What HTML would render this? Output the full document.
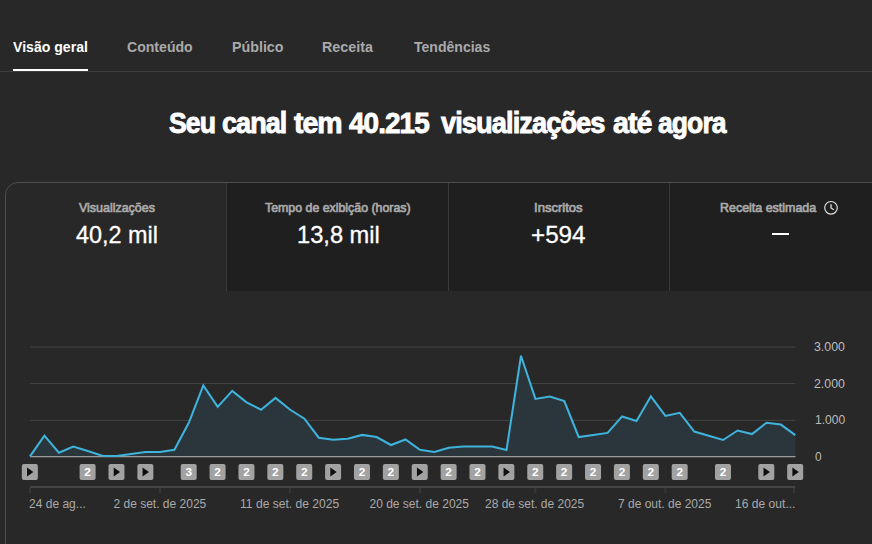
<!DOCTYPE html>
<html><head><meta charset="utf-8">
<style>
html,body{margin:0;padding:0;}
body{width:872px;height:544px;overflow:hidden;background:#282828;font-family:"Liberation Sans",sans-serif;position:relative;color:#fff;}
.abs{position:absolute;white-space:nowrap;}
.t{position:absolute;white-space:nowrap;transform-origin:0 50%;}
.tw{font-size:29.4px;letter-spacing:-1px;-webkit-text-stroke:0.9px #fff;font-weight:bold;color:#fff;line-height:36px}
.tabon{font-size:15.5px;font-weight:bold;color:#fff;line-height:20px}
.tab{font-size:15.5px;font-weight:bold;color:#aaaaaa;line-height:20px}
.lbl{font-size:13.2px;-webkit-text-stroke:0.7px #aaaaaa;color:#aaaaaa;line-height:16px}
.val{font-size:24px;-webkit-text-stroke:0.3px #fff;color:#fff;line-height:28px}
.xl{font-size:12px;color:#aaaaaa;line-height:14px}
.yl{font-size:12px;color:#bdbdbd;line-height:14px}

#tabline{position:absolute;left:0;top:71px;width:872px;height:1px;background:#3f3f3f;}
#ul{position:absolute;left:13px;top:69px;width:75px;height:2px;background:#fff;}
#card{position:absolute;left:5px;top:182px;width:900px;height:400px;border:1px solid #4e4e4e;border-radius:13px 0 0 0;box-sizing:border-box;background:#282828;}
.cell{position:absolute;top:183px;height:108px;background:#1f1f1f;}
.vdiv{position:absolute;top:183px;height:108px;width:1px;background:#3a3a3a;}
.mt{font-family:"Liberation Sans",sans-serif;font-size:10.2px;font-weight:bold;fill:#fff;}
</style></head><body>
<div id="tabline"></div><div id="ul"></div>
<div id="card"></div>
<div class="cell" style="left:227px;width:221px"></div>
<div class="cell" style="left:449px;width:220px"></div>
<div class="cell" style="left:670px;width:202px"></div>
<div class="vdiv" style="left:226px"></div>
<div class="vdiv" style="left:448px"></div>
<div class="vdiv" style="left:669px"></div>
<svg class="abs" style="left:823px;top:200px" width="16" height="16" viewBox="0 0 16 16"><circle cx="8" cy="7.8" r="6.3" fill="none" stroke="#e0e0e0" stroke-width="1.2"/><path d="M8 4.2 V8 L10.8 9.8" fill="none" stroke="#e0e0e0" stroke-width="1.3"/></svg>
<div class="abs" style="left:772px;top:233px;width:17px;height:2px;background:#fff"></div>
<svg class="abs" style="left:0;top:0" width="872" height="544" viewBox="0 0 872 544">
<rect x="30" y="346.5" width="765.3" height="1.1" fill="#424242"/>
<rect x="30" y="382.95" width="765.3" height="1.1" fill="#424242"/>
<rect x="30" y="419.85" width="765.3" height="1.1" fill="#424242"/>
<path d="M30.0,456.5 L30.0,456.3 L44.4,435.7 L58.9,452.7 L73.3,446.5 L87.8,451.0 L102.2,455.7 L116.6,456.0 L131.1,454.0 L145.5,452.0 L160.0,452.0 L174.4,449.8 L188.8,422.8 L203.3,385.5 L217.7,406.9 L232.2,390.9 L246.6,402.3 L261.0,409.7 L275.5,397.9 L289.9,409.5 L304.4,418.7 L318.8,437.7 L333.2,439.8 L347.7,438.8 L362.1,434.9 L376.6,437.0 L391.0,445.0 L405.5,439.5 L419.9,449.8 L434.3,451.9 L448.8,447.8 L463.2,446.5 L477.7,446.5 L492.1,446.5 L506.5,450.1 L521.0,355.7 L535.4,398.9 L549.9,396.6 L564.3,401.0 L578.7,437.0 L593.2,434.9 L607.6,432.9 L622.1,416.4 L636.5,421.0 L650.9,396.3 L665.4,415.9 L679.8,412.8 L694.3,431.6 L708.7,435.8 L723.1,440.0 L737.6,430.5 L752.0,434.1 L766.5,422.8 L780.9,424.6 L795.3,435.2 L795.3,456.5 Z" fill="#2b363c"/>
<rect x="30" y="456" width="765.5" height="1.25" fill="#9c9c9c"/>
<polyline points="30.0,456.3 44.4,435.7 58.9,452.7 73.3,446.5 87.8,451.0 102.2,455.7 116.6,456.0 131.1,454.0 145.5,452.0 160.0,452.0 174.4,449.8 188.8,422.8 203.3,385.5 217.7,406.9 232.2,390.9 246.6,402.3 261.0,409.7 275.5,397.9 289.9,409.5 304.4,418.7 318.8,437.7 333.2,439.8 347.7,438.8 362.1,434.9 376.6,437.0 391.0,445.0 405.5,439.5 419.9,449.8 434.3,451.9 448.8,447.8 463.2,446.5 477.7,446.5 492.1,446.5 506.5,450.1 521.0,355.7 535.4,398.9 549.9,396.6 564.3,401.0 578.7,437.0 593.2,434.9 607.6,432.9 622.1,416.4 636.5,421.0 650.9,396.3 665.4,415.9 679.8,412.8 694.3,431.6 708.7,435.8 723.1,440.0 737.6,430.5 752.0,434.1 766.5,422.8 780.9,424.6 795.3,435.2" fill="none" stroke="#3eb3dc" stroke-width="2.05" stroke-linejoin="miter" stroke-linecap="butt"/>
<rect x="21.85" y="464" width="16" height="16" rx="2" fill="#a2a2a2"/><path d="M27.05 467.6 L33.45 472 L27.05 476.4 Z" fill="#0f0f0f"/>
<rect x="79.61" y="464" width="16" height="16" rx="2" fill="#a2a2a2"/><text transform="translate(87.61,475.6) scale(1.16,1)" x="0" y="0" text-anchor="middle" class="mt">2</text>
<rect x="108.49" y="464" width="16" height="16" rx="2" fill="#a2a2a2"/><path d="M113.69 467.6 L120.09 472 L113.69 476.4 Z" fill="#0f0f0f"/>
<rect x="137.37" y="464" width="16" height="16" rx="2" fill="#a2a2a2"/><path d="M142.57 467.6 L148.97 472 L142.57 476.4 Z" fill="#0f0f0f"/>
<rect x="180.69" y="464" width="16" height="16" rx="2" fill="#a2a2a2"/><text transform="translate(188.69,475.6) scale(1.16,1)" x="0" y="0" text-anchor="middle" class="mt">3</text>
<rect x="209.58" y="464" width="16" height="16" rx="2" fill="#a2a2a2"/><text transform="translate(217.58,475.6) scale(1.16,1)" x="0" y="0" text-anchor="middle" class="mt">2</text>
<rect x="238.46" y="464" width="16" height="16" rx="2" fill="#a2a2a2"/><text transform="translate(246.46,475.6) scale(1.16,1)" x="0" y="0" text-anchor="middle" class="mt">2</text>
<rect x="267.34" y="464" width="16" height="16" rx="2" fill="#a2a2a2"/><text transform="translate(275.34,475.6) scale(1.16,1)" x="0" y="0" text-anchor="middle" class="mt">2</text>
<rect x="296.22" y="464" width="16" height="16" rx="2" fill="#a2a2a2"/><text transform="translate(304.22,475.6) scale(1.16,1)" x="0" y="0" text-anchor="middle" class="mt">2</text>
<rect x="325.10" y="464" width="16" height="16" rx="2" fill="#a2a2a2"/><path d="M330.30 467.6 L336.70 472 L330.30 476.4 Z" fill="#0f0f0f"/>
<rect x="353.98" y="464" width="16" height="16" rx="2" fill="#a2a2a2"/><text transform="translate(361.98,475.6) scale(1.16,1)" x="0" y="0" text-anchor="middle" class="mt">2</text>
<rect x="382.86" y="464" width="16" height="16" rx="2" fill="#a2a2a2"/><text transform="translate(390.86,475.6) scale(1.16,1)" x="0" y="0" text-anchor="middle" class="mt">2</text>
<rect x="411.74" y="464" width="16" height="16" rx="2" fill="#a2a2a2"/><path d="M416.94 467.6 L423.34 472 L416.94 476.4 Z" fill="#0f0f0f"/>
<rect x="440.62" y="464" width="16" height="16" rx="2" fill="#a2a2a2"/><text transform="translate(448.62,475.6) scale(1.16,1)" x="0" y="0" text-anchor="middle" class="mt">2</text>
<rect x="469.50" y="464" width="16" height="16" rx="2" fill="#a2a2a2"/><text transform="translate(477.50,475.6) scale(1.16,1)" x="0" y="0" text-anchor="middle" class="mt">2</text>
<rect x="498.38" y="464" width="16" height="16" rx="2" fill="#a2a2a2"/><path d="M503.58 467.6 L509.98 472 L503.58 476.4 Z" fill="#0f0f0f"/>
<rect x="527.26" y="464" width="16" height="16" rx="2" fill="#a2a2a2"/><text transform="translate(535.26,475.6) scale(1.16,1)" x="0" y="0" text-anchor="middle" class="mt">2</text>
<rect x="556.14" y="464" width="16" height="16" rx="2" fill="#a2a2a2"/><text transform="translate(564.14,475.6) scale(1.16,1)" x="0" y="0" text-anchor="middle" class="mt">2</text>
<rect x="585.03" y="464" width="16" height="16" rx="2" fill="#a2a2a2"/><text transform="translate(593.03,475.6) scale(1.16,1)" x="0" y="0" text-anchor="middle" class="mt">2</text>
<rect x="613.91" y="464" width="16" height="16" rx="2" fill="#a2a2a2"/><text transform="translate(621.91,475.6) scale(1.16,1)" x="0" y="0" text-anchor="middle" class="mt">2</text>
<rect x="642.79" y="464" width="16" height="16" rx="2" fill="#a2a2a2"/><text transform="translate(650.79,475.6) scale(1.16,1)" x="0" y="0" text-anchor="middle" class="mt">2</text>
<rect x="671.67" y="464" width="16" height="16" rx="2" fill="#a2a2a2"/><text transform="translate(679.67,475.6) scale(1.16,1)" x="0" y="0" text-anchor="middle" class="mt">2</text>
<rect x="714.99" y="464" width="16" height="16" rx="2" fill="#a2a2a2"/><text transform="translate(722.99,475.6) scale(1.16,1)" x="0" y="0" text-anchor="middle" class="mt">2</text>
<rect x="758.31" y="464" width="16" height="16" rx="2" fill="#a2a2a2"/><path d="M763.51 467.6 L769.91 472 L763.51 476.4 Z" fill="#0f0f0f"/>
<rect x="787.19" y="464" width="16" height="16" rx="2" fill="#a2a2a2"/><path d="M792.39 467.6 L798.79 472 L792.39 476.4 Z" fill="#0f0f0f"/>

<rect x="30" y="486" width="765.1" height="2" fill="#444444"/>
<rect x="29.00" y="488" width="2" height="5" fill="#373737"/><rect x="158.96" y="488" width="2" height="5" fill="#373737"/><rect x="288.93" y="488" width="2" height="5" fill="#373737"/><rect x="418.89" y="488" width="2" height="5" fill="#373737"/><rect x="534.41" y="488" width="2" height="5" fill="#373737"/><rect x="664.38" y="488" width="2" height="5" fill="#373737"/><rect x="793.10" y="488" width="2" height="5" fill="#373737"/>
</svg>
<span class="t tw" style="left:168.80px;top:105px;transform:scaleX(0.9059)">Seu</span>
<span class="t tw" style="left:221.80px;top:105px;transform:scaleX(0.9186)">canal</span>
<span class="t tw" style="left:293.70px;top:105px;transform:scaleX(0.9673)">tem</span>
<span class="t tw" style="left:348.80px;top:105px;transform:scaleX(0.9506)">40.215</span>
<span class="t tw" style="left:441.33px;top:105px;transform:scaleX(0.9264)">visualizações</span>
<span class="t tw" style="left:612.80px;top:105px;transform:scaleX(0.9725)">até</span>
<span class="t tw" style="left:658.00px;top:105px;transform:scaleX(0.9013)">agora</span>
<span class="t tabon" style="left:13.20px;top:36.5px;transform:scaleX(0.9085)">Visão geral</span>
<span class="t tab" style="left:127.29px;top:36.5px;transform:scaleX(0.9085)">Conteúdo</span>
<span class="t tab" style="left:232.28px;top:36.5px;transform:scaleX(0.9204)">Público</span>
<span class="t tab" style="left:322.48px;top:36.5px;transform:scaleX(0.9222)">Receita</span>
<span class="t tab" style="left:414.30px;top:36.5px;transform:scaleX(0.9060)">Tendências</span>
<span class="t lbl" style="left:78.50px;top:199.8px;transform:scaleX(0.9437)">Visualizações</span>
<span class="t val" style="left:76.00px;top:221px;transform:scaleX(0.9759)">40,2 mil</span>
<span class="t lbl" style="left:265.00px;top:199.8px;transform:scaleX(0.9368)">Tempo de exibição (horas)</span>
<span class="t val" style="left:296.71px;top:221px;transform:scaleX(0.9854)">13,8 mil</span>
<span class="t lbl" style="left:534.01px;top:199.8px;transform:scaleX(0.9896)">Inscritos</span>
<span class="t val" style="left:530.99px;top:221px;transform:scaleX(1.0094)">+594</span>
<span class="t lbl" style="left:719.76px;top:199.8px;transform:scaleX(0.9436)">Receita estimada</span>
<span class="t xl" style="left:29.10px;top:497px;transform:scaleX(1.0018)">24 de ag...</span>
<span class="t xl" style="left:113.50px;top:497px;transform:scaleX(1.0000)">2 de set. de 2025</span>
<span class="t xl" style="left:240.29px;top:497px;transform:scaleX(1.0072)">11 de set. de 2025</span>
<span class="t xl" style="left:369.50px;top:497px;transform:scaleX(1.0000)">20 de set. de 2025</span>
<span class="t xl" style="left:485.30px;top:497px;transform:scaleX(0.9969)">28 de set. de 2025</span>
<span class="t xl" style="left:618.40px;top:497px;transform:scaleX(0.9989)">7 de out. de 2025</span>
<span class="t xl" style="left:734.99px;top:497px;transform:scaleX(1.0069)">16 de out...</span>
<span class="t yl" style="left:814.17px;top:340px;transform:scaleX(1.0276)">3.000</span>
<span class="t yl" style="left:814.17px;top:376.5px;transform:scaleX(1.0276)">2.000</span>
<span class="t yl" style="left:814.90px;top:413px;transform:scaleX(1.0034)">1.000</span>
<span class="t yl" style="left:815.40px;top:449.5px;transform:scaleX(0.9833)">0</span>

</body></html>
